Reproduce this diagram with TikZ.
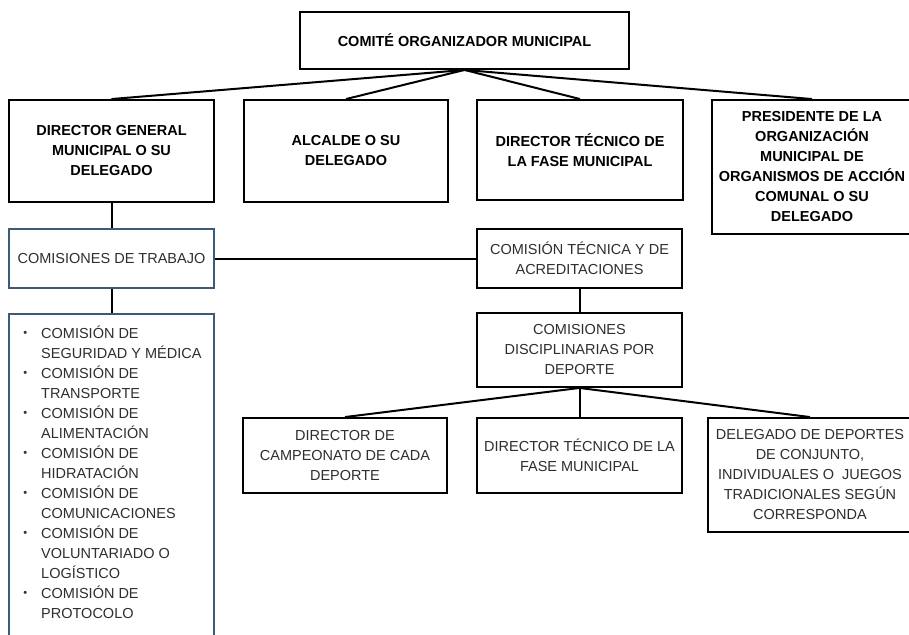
\documentclass[tikz,border=0pt]{standalone}
\usepackage{fontspec}
\setmainfont{Liberation Sans}
\definecolor{boxblue}{HTML}{3B5B78}
\definecolor{textgray}{HTML}{2E2E2E}
\newcommand{\mybul}{{\fontsize{11}{11}\selectfont\raisebox{1.5pt}{•}}}
\begin{document}
\begin{tikzpicture}[x=1pt,y=-1pt,
  bbox/.style={draw=black, line width=1.9pt, inner sep=0pt, align=center, text=black, font=\bfseries\fontsize{14.5}{20}\selectfont},
  nbox/.style={draw=black, line width=1.9pt, inner sep=0pt, align=center, text=textgray, font=\fontsize{14.5}{20}\selectfont},
  bluebox/.style={draw=boxblue, line width=1.5pt, inner sep=0pt, align=center, text=textgray, font=\fontsize{14.5}{20}\selectfont},
  conn/.style={draw=black, line width=2pt}]
\useasboundingbox (0,0) rectangle (909,634);
\clip (0,0) rectangle (909,634);
\fill[white] (0,0) rectangle (909,634);

% top
\node[bbox, minimum width=329pt, minimum height=57pt] (top) at (464.5,40.5) {COMITÉ ORGANIZADOR MUNICIPAL};

% row 2
\node[bbox, minimum width=205pt, minimum height=102pt] (dg) at (111.5,151) {DIRECTOR GENERAL\\MUNICIPAL O SU\\DELEGADO};
\node[bbox, minimum width=204pt, minimum height=102pt] (alc) at (346,151) {ALCALDE O SU\\DELEGADO};
\node[bbox, minimum width=206pt, minimum height=100pt] (dt) at (580,150) {DIRECTOR TÉCNICO DE\\LA FASE MUNICIPAL};
\node[bbox, minimum width=200pt, minimum height=134pt] (pres) at (812,167) {PRESIDENTE DE LA\\ORGANIZACIÓN\\MUNICIPAL DE\\ORGANISMOS DE ACCIÓN\\COMUNAL O SU\\DELEGADO};

% row 3
\node[bluebox, minimum width=205pt, minimum height=59pt] (ct) at (111.5,258.5) {COMISIONES DE TRABAJO};
\node[nbox, minimum width=205pt, minimum height=59pt] (cta) at (579.5,258.5) {COMISIÓN TÉCNICA Y DE\\ACREDITACIONES};
\node[nbox, minimum width=205pt, minimum height=74pt] (cd) at (579.5,350) {COMISIONES\\DISCIPLINARIAS POR\\DEPORTE};

% list box
\node[bluebox, minimum width=205pt, minimum height=400pt, anchor=north] (list) at (111.5,313) {};
\node[anchor=north west, inner sep=0pt, text=textgray, font=\fontsize{14.5}{20}\selectfont] (lt) at (17,324) {%
\begin{tabular}{@{}c@{\hspace{8pt}}l@{}}
\makebox[16pt]{\mybul} & COMISIÓN DE\\
 & SEGURIDAD Y MÉDICA\\
\makebox[16pt]{\mybul} & COMISIÓN DE\\
 & TRANSPORTE\\
\makebox[16pt]{\mybul} & COMISIÓN DE\\
 & ALIMENTACIÓN\\
\makebox[16pt]{\mybul} & COMISIÓN DE\\
 & HIDRATACIÓN\\
\makebox[16pt]{\mybul} & COMISIÓN DE\\
 & COMUNICACIONES\\
\makebox[16pt]{\mybul} & COMISIÓN DE\\
 & VOLUNTARIADO O\\
 & LOGÍSTICO\\
\makebox[16pt]{\mybul} & COMISIÓN DE\\
 & PROTOCOLO
\end{tabular}};

% bottom row
\node[nbox, minimum width=204pt, minimum height=75pt] (b1) at (345,455.5) {DIRECTOR DE\\CAMPEONATO DE CADA\\DEPORTE};
\node[nbox, minimum width=205pt, minimum height=75pt] (b2) at (579.5,455.5) {DIRECTOR TÉCNICO DE LA\\FASE MUNICIPAL};
\node[nbox, minimum width=204pt, minimum height=114pt] (b3) at (810,475) {DELEGADO DE DEPORTES\\DE CONJUNTO,\\INDIVIDUALES O\ \ JUEGOS\\TRADICIONALES SEGÚN\\CORRESPONDA};

% connectors
\draw[conn] (top.south) -- (dg.north);
\draw[conn] (top.south) -- (alc.north);
\draw[conn] (top.south) -- (dt.north);
\draw[conn] (top.south) -- (pres.north);
\draw[conn] (dg.south) -- (ct.north);
\draw[conn] (ct.east) -- (cta.west);
\draw[conn] (ct.south) -- (list.north);
\draw[conn] (cta.south) -- (cd.north);
\draw[conn] (cd.south) -- (b1.north);
\draw[conn] (cd.south) -- (b2.north);
\draw[conn] (cd.south) -- (b3.north);
\end{tikzpicture}
\end{document}
